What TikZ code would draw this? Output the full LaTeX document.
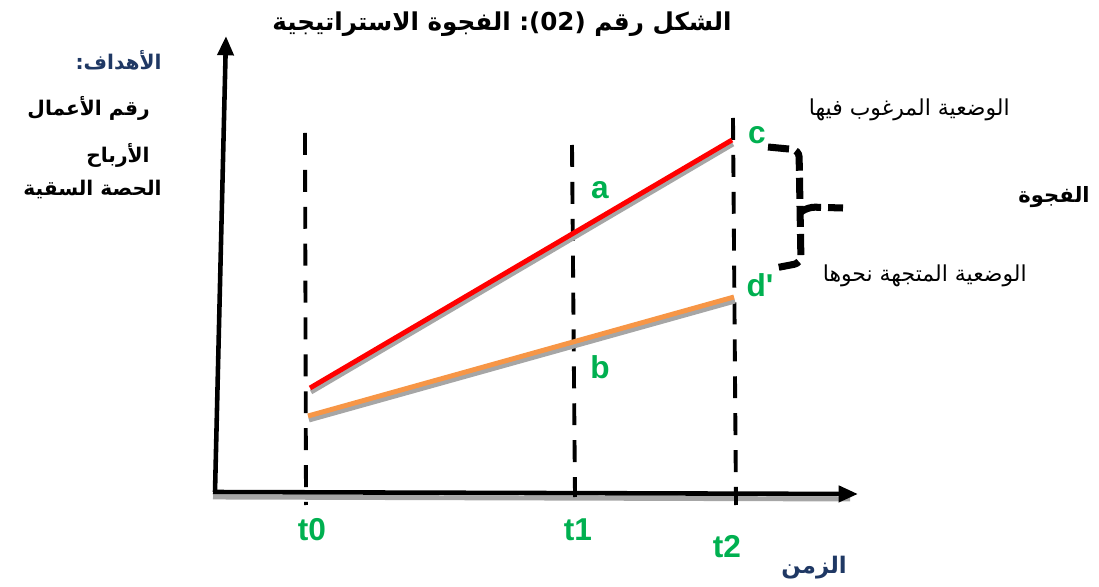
\documentclass[tikz,border=0pt]{standalone}
\usepackage{fontspec}
\setmainfont{Liberation Sans}
\newfontfamily\latinfont{Liberation Sans}
\newfontfamily\arabicfont[Script=Arabic]{DejaVu Sans}
\TeXXeTstate=1
\definecolor{labelgreen}{RGB}{0,176,80}
\definecolor{axisblue}{RGB}{31,56,100}
\definecolor{lineorange}{RGB}{247,150,70}
\usetikzlibrary{arrows.meta,positioning,calc}
% one word set right to left
\newcommand{\arword}[1]{\mbox{\beginR #1\endR}}

\begin{document}
\begin{tikzpicture}[x=0.02cm, y=-0.02cm,
  axis/.style={line width=2.6pt, -{Triangle[length=11pt,width=9pt]}},
  period/.style={line width=2.2pt, dash pattern=on 12.5pt off 8.5pt},
  shade/.style={line width=2.8pt, black!35},
  trend/.style={line width=2.8pt},
  gapbrace/.style={line width=4pt, dash pattern=on 12pt off 4pt, rounded corners=4pt},
  lbl/.style={font=\latinfont\bfseries\fontsize{18}{20}\selectfont, text=labelgreen, inner sep=0pt},
  ar/.style={font=\arabicfont\fontsize{12.5}{15}\selectfont, inner sep=0pt},
  arb/.style={font=\arabicfont\bfseries\fontsize{11.5}{14}\selectfont, inner sep=0pt}
]
\useasboundingbox (0,0) rectangle (1099,587);

% axes
\coordinate (o) at (215,492);
\coordinate (ytop) at (226,36);
\coordinate (xend) at (858,494);
\draw[shade] (213,497) -- (850,499);
\draw[axis] (o) -- (ytop);
\draw[axis] (213,492) -- (xend);

% time marks
\coordinate (p0a) at (305,133); \coordinate (p0b) at (306,505);
\coordinate (p1a) at (572,145); \coordinate (p1b) at (575,497);
\coordinate (p2a) at (733,118); \coordinate (p2b) at (736,505);
\draw[period] (p0a) -- (p0b);
\draw[period] (p1a) -- (p1b);
\draw[period] (p2a) -- (p2b);

% trends
\coordinate (r0) at (310,388); \coordinate (r2) at (732,140);
\coordinate (g0) at (308,416); \coordinate (g2) at (734,297);
\draw[shade] ($(r0)+(1,4)$) -- ($(r2)+(1,4)$);
\draw[shade] ($(g0)+(1,4)$) -- ($(g2)+(1,4)$);
\draw[trend, red] (r0) -- (r2);
\draw[trend, lineorange] (g0) -- (g2);

% point labels
\node[lbl] (a) at (600,190) {a};
\node[lbl] (b) at (600,367) {b};
\node[lbl] (c) at (757,135) {c};
\node[lbl] (d) at (760,285) {d'};
\node[lbl] (t0) at (312,530) {t0};
\node[lbl] (t1) at (578,530) {t1};
\node[lbl] (t2) at (727,547) {t2};

% gap brace
\coordinate (bc) at (768,147);
\coordinate (bd) at (775,268);
\coordinate (btip) at (843,208);
\draw[gapbrace] (bc) -- (799,150) -- (801,263) -- (bd);
\draw[gapbrace] (801,212) -- (808,207) -- (btip);

% texts
\node[arb] (title) at (502,24) {\arabicfont\bfseries\fontsize{14}{17}\selectfont
  \arword{الاستراتيجية}\ \arword{الفجوة}\ (02):\ \arword{رقم}\ \arword{الشكل}};
\node[arb, text=axisblue, anchor=east] (goals) at (162,60) {\arword{الأهداف:}};
\node[arb, anchor=east] (sales) at (150,108) {\arword{الأعمال}\ \arword{رقم}};
\node[arb, anchor=east] (profit) at (150,155) {\arword{الأرباح}};
\node[arb, anchor=east] (share) at (162,190) {\arword{السقية}\ \arword{الحصة}};
\node[ar, anchor=east] (want) at (1010,110) {\beginR الوضعية المرغوب فيها\endR};
\node[arb, font=\arabicfont\bfseries\fontsize{12}{14}\selectfont, anchor=east] (gap) at (1090,197) {\arword{الفجوة}};
\node[ar, anchor=east] (head) at (1027,276) {\beginR الوضعية المتجهة نحوها\endR};
\node[arb, font=\arabicfont\bfseries\fontsize{13}{15}\selectfont, text=axisblue] (time) at (814,568) {\arword{الزمن}};
\end{tikzpicture}
\end{document}
